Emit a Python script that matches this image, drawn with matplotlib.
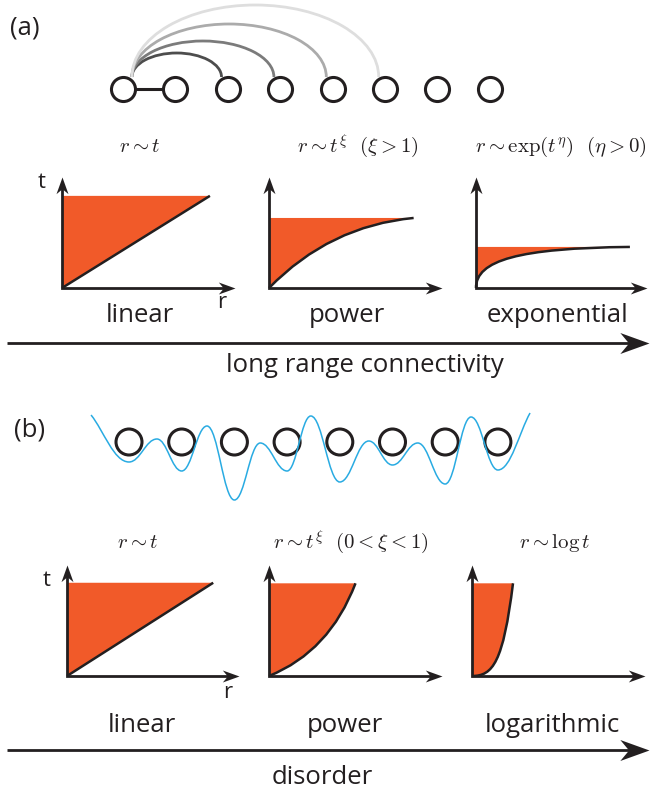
import numpy as np
import matplotlib.pyplot as plt
from matplotlib.path import Path
from matplotlib.patches import PathPatch, Arc

W, H = 653, 796
INK = '#231f20'
ORANGE = '#f15a29'
BLUE = '#29abe2'

plt.rcParams['mathtext.fontset'] = 'cm'
plt.rcParams['font.family'] = ['Open Sans', 'DejaVu Sans']

# --- data ---
sites = np.arange(8)

# (a) long range links from site 0
arc_targets = [2, 3, 4, 5]
arc_heights = [36, 48, 65, 84]
arc_colors = ['#4d4d4d', '#7b7b7b', '#ababab', '#dedede']

# (b) disordered potential landscape (minima sit on the sites)
well_heights = [38, 29, 0, 29, 18, 35, 16, 30]
barrier_pos = [0.53, 1.48, 2.49, 3.45, 4.55, 5.48, 6.49]
barrier_heights = [61, 74, 57, 84, 59, 57, 83]
edge_pos = [-0.72, 7.61]
edge_heights = [85, 87]

# light-cone fronts, control points in (r, t) axis units
titles_a = [r'$r \sim t$', r'$r \sim t^{\xi}\ \ (\xi > 1)$',
            r'$r \sim \exp(t^{\eta})\ \ (\eta > 0)$']
labels_a = ['linear', 'power', 'exponential']
front_r_a = [[0, 0.855], [0, 0.35, 0.836], [0, 0.0, 0.25, 0.90]]
front_t_a = [[0, 0.83], [0, 0.56, 0.631], [0, 0.25, 0.36, 0.37]]

titles_b = [r'$r \sim t$', r'$r \sim t^{\xi}\ \ (0 < \xi < 1)$', r'$r \sim \log t$']
labels_b = ['linear', 'power', 'logarithmic']
front_r_b = [[0, 0.85], [0, 0.35, 0.50], [0, 0.12, 0.18, 0.237]]
front_t_b = [[0, 0.84], [0, 0.22, 0.835], [0, 0.0, 0.12, 0.835]]


def stealth(angle):
    v = np.array([[0, 0], [-1, 0.36], [-0.7, 0], [-1, -0.36], [0, 0]])
    th = np.deg2rad(angle)
    rot = np.array([[np.cos(th), -np.sin(th)], [np.sin(th), np.cos(th)]])
    return Path(v @ rot.T, [Path.MOVETO, Path.LINETO, Path.LINETO,
                            Path.LINETO, Path.CLOSEPOLY])


def px_axes(x0, y0, x1, y1):
    # rect given in pixels, origin top-left
    ax = fig.add_axes([x0 / W, 1 - y1 / H, (x1 - x0) / W, (y1 - y0) / H])
    ax.axis('off')
    return ax


fig = plt.figure(figsize=(W / 100, H / 100), dpi=100)

# --- mini light-cone panels ---
CODES = {2: [Path.MOVETO, Path.LINETO],
         3: [Path.MOVETO, Path.CURVE3, Path.CURVE3],
         4: [Path.MOVETO, Path.CURVE4, Path.CURVE4, Path.CURVE4]}


def cone_panel(ox, oy, w, h, rs, ts):
    ax = px_axes(ox, oy - h, ox + w, oy)
    ax.set_xlim(0, 1)
    ax.set_ylim(0, 1)
    pts = list(zip(rs, ts))
    codes = CODES[len(pts)]
    fill = Path(pts + [(0, ts[-1]), (0, 0)], codes + [Path.LINETO, Path.CLOSEPOLY])
    ax.add_patch(PathPatch(fill, fc=ORANGE, ec='none', zorder=1))
    ax.add_patch(PathPatch(Path(pts, codes), fc='none', ec=INK, lw=1.8,
                           zorder=3, clip_on=False))
    ax.plot([0.94, 0, 0], [0, 0, 0.9], color=INK, lw=2.0, zorder=4,
            solid_joinstyle='miter', clip_on=False)
    ax.plot(1, 0, marker=stealth(0), ms=24, mfc=INK, mew=0, zorder=5, clip_on=False)
    ax.plot(0, 1, marker=stealth(90), ms=24, mfc=INK, mew=0, zorder=5, clip_on=False)
    return ax


row_a = [(62, 288, 173), (269, 288, 173), (476, 288, 171)]
row_b = [(67, 676, 172), (269, 676, 173), (472, 676, 173)]
for (ox, oy, w), rs, ts in zip(row_a, front_r_a, front_t_a):
    cone_panel(ox, oy, w, 111, rs, ts)
for (ox, oy, w), rs, ts in zip(row_b, front_r_b, front_t_b):
    cone_panel(ox, oy, w, 111, rs, ts)

# --- (a) chain with long range links ---
sp_a, x0_a, yc_a = 52.4, 123, 89
axc = px_axes(97, 0, 517, 110)
axc.set_xlim((97 - x0_a) / sp_a, (517 - x0_a) / sp_a)
axc.set_ylim(yc_a - 110, yc_a)
axc.plot([0, 1], [0, 0], color=INK, lw=2.2, zorder=1)
for k, hgt, col in zip(arc_targets, arc_heights, arc_colors):
    xs, xe = 0.17, k - 0.12
    axc.add_patch(Arc(((xs + xe) / 2, 12), xe - xs, 2 * (hgt - 12),
                      theta1=0, theta2=180, color=col, lw=2.0, zorder=0))
axc.scatter(sites, np.zeros_like(sites), s=300, facecolor='white',
            edgecolor=INK, linewidths=2.2, zorder=2)

# --- (b) chain in a disordered landscape ---
sp_b, x0_b = 52.7, 129
axp = px_axes(80, 400, 545, 510)
axp.set_xlim((80 - x0_b) / sp_b, (545 - x0_b) / sp_b)
axp.set_ylim(-10, 100)

ext_x = [edge_pos[0]]
ext_y = [edge_heights[0]]
for i in range(len(sites)):
    ext_x.append(sites[i])
    ext_y.append(well_heights[i])
    if i < len(barrier_pos):
        ext_x.append(barrier_pos[i])
        ext_y.append(barrier_heights[i])
ext_x.append(edge_pos[1])
ext_y.append(edge_heights[1])

verts = [(ext_x[0], ext_y[0])]
codes = [Path.MOVETO]
n = len(ext_x)
for i in range(n - 1):
    xa, ya, xb, yb = ext_x[i], ext_y[i], ext_x[i + 1], ext_y[i + 1]
    dx = xb - xa
    c1 = (xa + dx / 3, ya + (yb - ya) / 3) if i == 0 else (xa + 0.4 * dx, ya)
    c2 = (xb - dx / 3, yb - (yb - ya) / 3) if i == n - 2 else (xb - 0.4 * dx, yb)
    verts += [c1, c2, (xb, yb)]
    codes += [Path.CURVE4] * 3
axp.add_patch(PathPatch(Path(verts, codes), fc='none', ec=BLUE, lw=1.1, zorder=3))
axp.scatter(sites, np.full(len(sites), 58), s=350, facecolor='none',
            edgecolor=INK, linewidths=2.2, zorder=2)

# --- overlay: text and long arrows (pixel coordinates) ---
ax0 = px_axes(0, 0, W, H)
ax0.set_xlim(0, W)
ax0.set_ylim(H, 0)

sans = dict(color=INK, ha='center', va='center')
ax0.text(25, 28, '(a)', fontsize=18.5, **sans)
ax0.text(30, 430, '(b)', fontsize=18.5, **sans)

for x, s in zip([140, 358, 561], titles_a):
    ax0.text(x, 147, s, fontsize=15, **sans)
for x, s in zip([138, 351, 555], titles_b):
    ax0.text(x, 543, s, fontsize=15, **sans)

for x, s in zip([140, 347, 558], labels_a):
    ax0.text(x, 316, s, fontsize=18.5, **sans)
for x, s in zip([142, 345, 552], labels_b):
    ax0.text(x, 725, s, fontsize=18.5, **sans)

ax0.text(42, 183, 't', fontsize=16, **sans)
ax0.text(222, 302, 'r', fontsize=16, **sans)
ax0.text(47, 580, 't', fontsize=16, **sans)
ax0.text(228, 692, 'r', fontsize=16, **sans)

for y in [343, 750]:
    ax0.plot([7, 630], [y, y], color=INK, lw=2.0, solid_capstyle='butt')
    ax0.plot(649, y, marker=stealth(0), ms=42, mfc=INK, mew=0)

ax0.text(365, 366, 'long range connectivity', fontsize=18.5, **sans)
ax0.text(322, 778, 'disorder', fontsize=18.5, **sans)

fig.savefig('out.png', dpi=100)
